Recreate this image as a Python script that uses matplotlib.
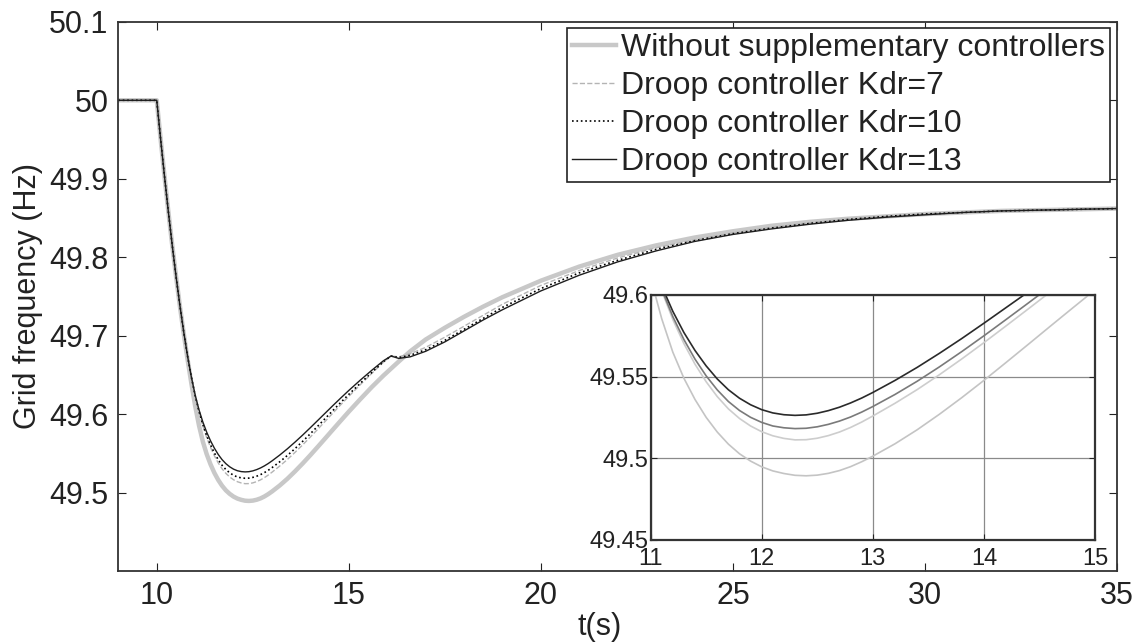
import numpy as np
import matplotlib.pyplot as plt

plt.rcParams['font.family'] = ['Liberation Sans', 'DejaVu Sans']

# Time (s)
t = [9.0,
     10.0, 10.1, 10.2, 10.3, 10.4, 10.5, 10.6, 10.7, 10.8, 10.9,
     11.0, 11.1, 11.2, 11.3, 11.4, 11.5, 11.6, 11.7, 11.8, 11.9,
     12.0, 12.1, 12.2, 12.3, 12.4, 12.5, 12.6, 12.7, 12.8, 12.9,
     13.0, 13.2, 13.4, 13.6, 13.8, 14.0, 14.2, 14.4, 14.6, 14.8,
     15.0, 15.3, 15.6, 15.9, 16.1, 16.3, 16.6, 17.0, 17.5, 18.0,
     18.5, 19.0, 20.0, 21.0, 22.0, 23.0, 24.0, 25.0, 26.0, 27.0,
     28.0, 29.0, 30.0, 31.0, 32.0, 33.0, 34.0, 35.0]

# Grid frequency (Hz) for each case
f_none = [50.0,
          50.0, 49.951, 49.904, 49.859, 49.8165, 49.7765, 49.7385, 49.7035, 49.6705, 49.6395,
          49.6105, 49.5855, 49.565, 49.549, 49.536, 49.5251, 49.5161, 49.5087, 49.5028, 49.4983,
          49.4948, 49.4923, 49.4907, 49.4896, 49.4893, 49.4897, 49.4908, 49.4925, 49.4949, 49.4979,
          49.5013, 49.5089, 49.5175, 49.527, 49.5371, 49.5477, 49.5587, 49.5698, 49.581, 49.5921,
          49.6031, 49.619, 49.6345, 49.649, 49.658, 49.667, 49.680, 49.695, 49.710, 49.724,
          49.737, 49.749, 49.770, 49.788, 49.803, 49.815, 49.825, 49.833, 49.840, 49.845,
          49.849, 49.852, 49.855, 49.857, 49.859, 49.860, 49.861, 49.862]

f_kdr7 = [50.0,
          50.0, 49.951, 49.904, 49.859, 49.8165, 49.7765, 49.7395, 49.7055, 49.6745, 49.6475,
          49.6233, 49.6025, 49.585, 49.5702, 49.5576, 49.5469, 49.5378, 49.5303, 49.5244, 49.5198,
          49.5163, 49.5138, 49.5122, 49.5113, 49.5114, 49.5123, 49.5139, 49.5161, 49.5189, 49.5222,
          49.5259, 49.5337, 49.5421, 49.5512, 49.5608, 49.5708, 49.5811, 49.5915, 49.602, 49.6124,
          49.6226, 49.6375, 49.6519, 49.6661, 49.674, 49.673, 49.677, 49.685, 49.698, 49.712,
          49.726, 49.740, 49.764, 49.783, 49.799, 49.812, 49.822, 49.831, 49.838, 49.844,
          49.849, 49.852, 49.855, 49.857, 49.859, 49.860, 49.861, 49.862]

f_kdr10 = [50.0,
           50.0, 49.951, 49.904, 49.859, 49.8165, 49.7765, 49.7395, 49.7055, 49.6745, 49.6475,
           49.6237, 49.6035, 49.5868, 49.5727, 49.5607, 49.5505, 49.5419, 49.5348, 49.5293, 49.5251,
           49.522, 49.5198, 49.5187, 49.5182, 49.5184, 49.5193, 49.5208, 49.5228, 49.5253, 49.5283,
           49.5317, 49.5391, 49.5472, 49.556, 49.5653, 49.575, 49.585, 49.5951, 49.6053, 49.6153,
           49.6251, 49.6393, 49.6531, 49.6667, 49.674, 49.672, 49.675, 49.682, 49.694, 49.708,
           49.722, 49.736, 49.760, 49.780, 49.796, 49.810, 49.821, 49.830, 49.837, 49.843,
           49.848, 49.852, 49.855, 49.857, 49.859, 49.860, 49.861, 49.862]

f_kdr13 = [50.0,
           50.0, 49.951, 49.904, 49.859, 49.8165, 49.7765, 49.7395, 49.7055, 49.6745, 49.6475,
           49.6245, 49.6055, 49.59, 49.577, 49.566, 49.5566, 49.5486, 49.542, 49.5368, 49.5328,
           49.5298, 49.5278, 49.5267, 49.5263, 49.5266, 49.5276, 49.5292, 49.5313, 49.5339, 49.5369,
           49.5403, 49.5477, 49.5557, 49.5643, 49.5733, 49.5827, 49.5923, 49.6019, 49.6115, 49.6209,
           49.6301, 49.6433, 49.6559, 49.6679, 49.674, 49.671, 49.673, 49.680, 49.692, 49.706,
           49.720, 49.733, 49.757, 49.777, 49.794, 49.808, 49.820, 49.829, 49.836, 49.842,
           49.847, 49.851, 49.854, 49.857, 49.859, 49.860, 49.861, 49.862]

labels = ["Without supplementary controllers", "Droop controller Kdr=7",
          "Droop controller Kdr=10", "Droop controller Kdr=13"]

fig = plt.figure(figsize=(11.4, 6.42), dpi=100)
ax = fig.add_axes([0.1038, 0.1106, 0.876, 0.8554])

ax.plot(t, f_none, color="#c8c8c8", lw=3.2, label=labels[0])
ax.plot(t, f_kdr7, color="#b4b4b4", lw=1.0, ls="--", label=labels[1])
ax.plot(t, f_kdr10, color="#000000", lw=1.2, ls=":", label=labels[2])
ax.plot(t, f_kdr13, color="#1e1e1e", lw=1.0, label=labels[3])

ax.set_xlim(9, 35)
ax.set_ylim(49.4, 50.1)
ax.set_xticks(np.arange(10, 36, 5))
ax.set_yticks([49.5, 49.6, 49.7, 49.8, 49.9, 50.0, 50.1])
ax.set_yticklabels(["49.5", "49.6", "49.7", "49.8", "49.9", "50", "50.1"])
ax.tick_params(direction="in", top=True, right=True, length=6, width=0.8,
               labelsize=22, pad=7, colors="#222222")
for s in ax.spines.values():
    s.set_linewidth(1.3)
    s.set_color("#333333")
ax.set_xlabel("t(s)", fontsize=22, color="#222222")
ax.set_ylabel("Grid frequency (Hz)", fontsize=22, color="#222222")
ax.xaxis.set_label_coords(0.482, -0.075)
ax.yaxis.set_label_coords(-0.075, 0.5)

leg = ax.legend(loc="upper right", bbox_to_anchor=(0.993, 0.988), borderaxespad=0,
                fontsize=23, handlelength=1.4, handletextpad=0.15, labelspacing=0.25,
                borderpad=0.15, fancybox=False, framealpha=1, edgecolor="#222222")
leg.get_frame().set_linewidth(1.2)
for txt in leg.get_texts():
    txt.set_color("#222222")

# Zoomed inset around the frequency nadir
ins = fig.add_axes([0.5707, 0.1589, 0.3898, 0.3816])
ins.plot(t, f_none, color="#c4c4c4", lw=1.2)
ins.plot(t, f_kdr7, color="#cdcdcd", lw=1.2)
ins.plot(t, f_kdr10, color="#7a7a7a", lw=1.2)
ins.plot(t, f_kdr13, color="#2a2a2a", lw=1.2)
ins.set_xlim(11, 15)
ins.set_ylim(49.45, 49.6)
ins.set_xticks([11, 12, 13, 14, 15])
ins.set_yticks([49.45, 49.5, 49.55, 49.6])
ins.set_yticklabels(["49.45", "49.5", "49.55", "49.6"])
ins.grid(True, color="#8a8a8a", lw=0.9)
ins.tick_params(direction="in", top=True, right=True, length=4, labelsize=17,
                colors="#222222")
ins.tick_params(axis="x", pad=6)
ins.tick_params(axis="y", pad=1.5)
for s in ins.spines.values():
    s.set_linewidth(1.6)
    s.set_color("#333333")

fig.savefig("out.png", dpi=100)
